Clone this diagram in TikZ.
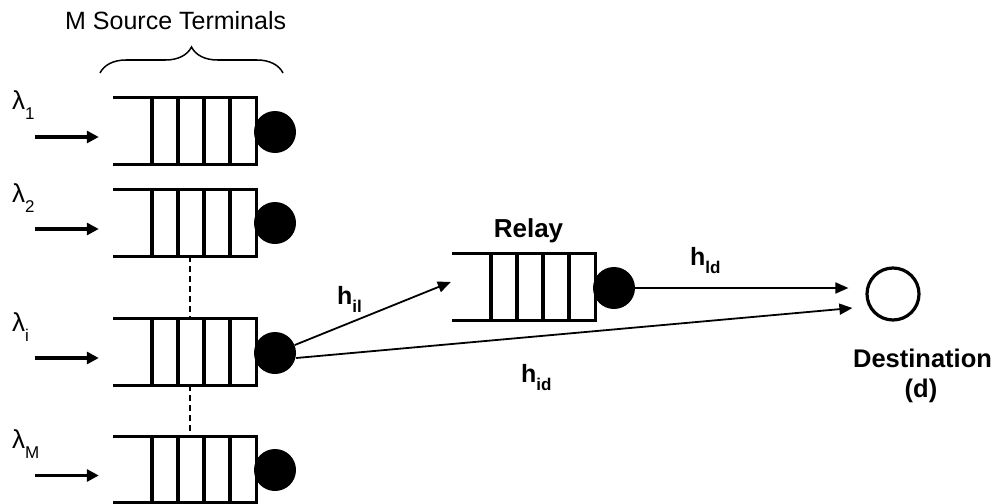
\documentclass[tikz,border=0pt]{standalone}
\usepackage{fontspec}
\setmainfont{Liberation Sans}
\usetikzlibrary{arrows.meta,calc,decorations.pathreplacing}

% lowered, smaller subscript text
\newcommand\lowsub[2][10pt]{\raisebox{-#1}{\fontsize{17}{17}\selectfont #2}}

% a queue: open on the left, closed on the right, with four cell dividers
\newcommand\drawqueue[1]{%
  \draw[qline] (#1.north west) -- (#1.north east) -- (#1.south east) -- (#1.south west);
  \foreach \f in {0.273,0.455,0.636,0.818}
    \draw[qline] ($(#1.north west)!\f!(#1.north east)$) -- ($(#1.south west)!\f!(#1.south east)$);
}

\begin{document}
\begin{tikzpicture}[x=1pt,y=-1pt,
  queue/.style={rectangle,draw=none,minimum width=143pt,minimum height=66pt,inner sep=0pt},
  qline/.style={line width=3.3pt,line cap=butt,line join=miter},
  server/.style={circle,fill=black,draw=none,minimum size=42pt,inner sep=0pt},
  sink/.style={circle,draw=black,line width=3.2pt,minimum size=52pt,inner sep=0pt},
  feed/.style={line width=3.3pt,-{Triangle[length=12pt,width=12pt]}},
  link/.style={line width=1.8pt,-{Triangle[length=13pt,width=11pt]}},
  elide/.style={line width=1.5pt,dash pattern=on 6pt off 4pt},
  lam/.style={anchor=base west,inner sep=0pt,font=\fontsize{26}{28}\selectfont},
  chan/.style={anchor=base west,inner sep=0pt,font=\fontsize{25}{28}\selectfont\bfseries},
  title/.style={inner sep=0pt,font=\fontsize{25}{28}\selectfont},
  tag/.style={inner sep=0pt,anchor=base,font=\fontsize{25.5}{30}\selectfont\bfseries}]

\useasboundingbox[fill=white] (0,0) rectangle (992,503);

% source queues
\node[queue] (q1) at (184.5,131) {};
\node[queue] (q2) at (184.5,223) {};
\node[queue] (qi) at (184.5,352) {};
\node[queue] (qM) at (184.5,469.5) {};
\foreach \q in {q1,q2,qi,qM} {\drawqueue{\q}}

% servers of the source queues
\node[server] (s1) at (275,132) {};
\node[server] (s2) at (275,223) {};
\node[server] (si) at (275,353) {};
\node[server] (sM) at (275,470) {};

% arrival arrows and rates
\foreach \q/\r in {q1/1,q2/2,qi/i,qM/M} {
  \coordinate (a\q) at ([xshift=-78pt,yshift=-6pt]\q.west);
  \coordinate (b\q) at ([xshift=-14pt,yshift=-6pt]\q.west);
  \draw[feed] (a\q) -- (b\q);
}
\node[lam] (l1) at (12,109) {λ\lowsub{1}};
\node[lam] (l2) at (12,202) {λ\lowsub{2}};
\node[lam] (li) at (12,331) {λ\lowsub{i}};
\node[lam] (lM) at (12,448) {λ\lowsub{M}};

% elided queues in between
\draw[elide] ([xshift=5.5pt]q2.south) -- ([xshift=5.5pt]qi.north);
\draw[elide] ([xshift=5.5pt]qi.south) -- ([xshift=5.5pt]qM.north);

% brace over the sources
\coordinate (bl) at (100,73);
\coordinate (br) at (283,73);
\draw[line width=1.5pt,decorate,decoration={brace,amplitude=26pt}] (bl) -- (br);
\node[title,anchor=base west] (src) at (65,30) {M Source Terminals};

% relay queue
\node[queue] (rq) at (523.5,287) {};
\drawqueue{rq}
\node[server] (sr) at (614,288) {};
\node[tag,font=\fontsize{26}{30}\selectfont\bfseries] (rl) at (528.5,237) {Relay};

% destination
\node[sink] (d) at (893,294) {};
\node[tag] (dl) at (922.5,367) {Destination};
\node[tag] (dd) at (921,397) {(d)};

% links
\coordinate (tr) at ([xshift=-1pt,yshift=5pt]rq.west);
\coordinate (td1) at ([xshift=-17pt,yshift=6pt]d.west);
\coordinate (td2) at ([xshift=-13pt,yshift=-14pt]d.west);
\coordinate (ss) at ([yshift=-5pt]si.east);
\draw[link] (si) -- (tr);
\draw[link] (ss) -- (td2);
\draw[link] (sr.east) -- (td1);

\node[chan] (hil) at (337,304) {h\lowsub[8pt]{il}};
\node[chan] (hid) at (521,382) {h\lowsub[8pt]{id}};
\node[chan] (hld) at (690,265) {h\lowsub[8pt]{ld}};
\end{tikzpicture}
\end{document}
